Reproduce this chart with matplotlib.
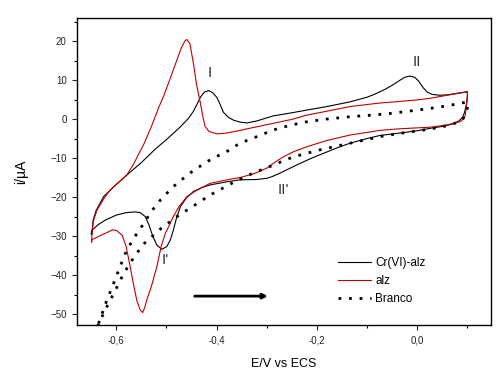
import numpy as np
import matplotlib
matplotlib.use('Agg')
import matplotlib.pyplot as plt
from matplotlib.ticker import MultipleLocator, FuncFormatter

plt.rcParams['font.family'] = ['Liberation Sans', 'DejaVu Sans']

# Cr(VI)-alz : forward (anodic) branch, right end, return branch
E_cr = [-0.648, -0.646, -0.640, -0.625, -0.600, -0.579, -0.550, -0.522, -0.500, -0.472,
        -0.455, -0.446, -0.438, -0.432, -0.424, -0.416, -0.408, -0.399, -0.392, -0.386,
        -0.376, -0.366, -0.353, -0.339, -0.320, -0.287, -0.250, -0.220, -0.180, -0.134,
        -0.100, -0.088, -0.074, -0.060, -0.048, -0.035, -0.025, -0.015, -0.005, 0.003,
        0.012, 0.020, 0.030, 0.045, 0.060, 0.080, 0.100,
        0.100, 0.099, 0.097, 0.094, 0.090, 0.083, 0.070, 0.050, 0.025,
        0.000, -0.035, -0.074, -0.100, -0.134, -0.160, -0.187, -0.210, -0.234, -0.255,
        -0.274, -0.290, -0.300, -0.320, -0.354, -0.380, -0.413, -0.430, -0.446, -0.460,
        -0.472, -0.480, -0.486, -0.492, -0.499, -0.509, -0.519, -0.525, -0.529, -0.535,
        -0.542, -0.552, -0.562, -0.580, -0.599, -0.620, -0.635, -0.648, -0.650]
i_cr = [-29.5, -26.0, -23.5, -19.9, -16.8, -14.4, -11.2, -7.7, -5.3, -2.0,
        0.3, 2.0, 4.0, 5.6, 6.9, 7.3, 6.8, 5.5, 3.5, 1.7,
        0.4, -0.3, -0.8, -1.0, -0.5, 0.8, 1.6, 2.3, 3.2, 4.4,
        5.6, 6.2, 7.0, 7.9, 8.8, 9.9, 10.7, 11.0, 10.7, 9.7,
        8.0, 6.9, 6.3, 6.1, 6.2, 6.6, 7.0,
        6.0, 4.5, 3.2, 1.6, 0.4, -0.5, -1.3, -1.9, -2.4,
        -3.0, -3.6, -4.2, -5.0, -6.2, -7.4, -8.8, -10.0, -11.4, -12.7,
        -13.9, -14.8, -15.2, -15.5, -15.6, -16.1, -16.9, -17.6, -18.6, -20.2,
        -22.5, -25.5, -28.5, -31.0, -32.7, -33.4, -32.3, -30.6, -29.3, -27.0,
        -25.0, -24.0, -23.8, -24.0, -24.6, -25.8, -27.0, -28.5, -29.5]

# alz
E_alz = [-0.649, -0.648, -0.645, -0.638, -0.625, -0.612, -0.595, -0.579, -0.565, -0.552,
         -0.545, -0.530, -0.515, -0.505, -0.492, -0.479, -0.470, -0.463, -0.459, -0.453,
         -0.446, -0.440, -0.432, -0.427, -0.423, -0.415, -0.399, -0.380, -0.360, -0.339,
         -0.320, -0.287, -0.250, -0.220, -0.180, -0.134, -0.075, -0.035, 0.000, 0.025,
         0.060, 0.100,
         0.100, 0.098, 0.095, 0.090, 0.085, 0.060, 0.025,
         -0.035, -0.074, -0.134, -0.180, -0.220, -0.245, -0.267, -0.285, -0.300, -0.325,
         -0.353, -0.380, -0.413, -0.440, -0.459, -0.475, -0.486, -0.495, -0.502, -0.510,
         -0.519, -0.530, -0.539, -0.543, -0.547, -0.552, -0.559, -0.566, -0.572, -0.580,
         -0.588, -0.599, -0.607, -0.615, -0.630, -0.648, -0.649]
i_alz = [-31.5, -28.5, -26.0, -23.3, -20.5, -18.2, -16.2, -14.4, -11.5, -8.2,
         -6.5, -2.0, 3.0, 6.0, 10.5, 15.1, 18.3, 20.0, 20.4, 19.3,
         14.3, 9.0, 4.0, 0.5, -1.8, -3.2, -3.8, -3.6, -3.1, -2.5,
         -2.0, -1.1, -0.1, 1.0, 2.0, 3.2, 4.1, 4.5, 4.9, 5.3,
         6.1, 7.0,
         6.0, 3.0, 0.6, -0.2, -0.7, -1.5, -2.1,
         -2.5, -2.9, -4.1, -5.5, -7.1, -8.3, -9.7, -11.2, -12.6, -14.0,
         -15.0, -15.6, -16.5, -18.3, -19.9, -22.5, -25.0, -27.5, -29.3, -32.5,
         -37.9, -43.0, -46.4, -48.3, -49.6, -49.0, -46.4, -42.0, -37.9, -32.7,
         -29.8, -28.6, -28.4, -28.9, -29.8, -30.9, -31.5]

# Branco
E_br = [-0.650, -0.635, -0.620, -0.605, -0.592, -0.579, -0.562, -0.545, -0.530, -0.512,
        -0.495, -0.479, -0.450, -0.420, -0.395, -0.373, -0.354, -0.327, -0.287, -0.250,
        -0.220, -0.180, -0.134, -0.090, -0.048, 0.000, 0.025, 0.060, 0.085, 0.100,
        0.100, 0.098, 0.092, 0.085, 0.060, 0.025,
        -0.020, -0.074, -0.134, -0.194, -0.247, -0.270, -0.294, -0.320, -0.340, -0.370,
        -0.413, -0.445, -0.479, -0.510, -0.545, -0.565, -0.585, -0.600, -0.618, -0.635,
        -0.650]
i_br = [-57.5, -52.4, -47.0, -42.1, -37.8, -33.6, -30.0, -26.8, -23.7, -20.8,
        -18.5, -16.5, -13.6, -11.0, -9.3, -7.9, -6.2, -4.9, -2.8, -1.5,
        -0.7, 0.0, 0.6, 1.0, 1.5, 2.3, 2.7, 3.4, 4.0, 4.4,
        3.0, 1.9, 0.2, -0.7, -1.7, -2.6,
        -3.4, -4.5, -6.2, -7.9, -9.7, -10.9, -12.2, -13.5, -14.6, -16.5,
        -19.5, -22.2, -25.0, -28.0, -32.0, -35.5, -39.6, -43.5, -48.0, -52.5,
        -57.5]

fig = plt.figure(figsize=(5.0, 3.79), dpi=100)
ax = fig.add_axes([0.154, 0.1425, 0.828, 0.81])

ax.plot(E_cr, i_cr, color='black', lw=0.8, label='Cr(VI)-alz')
ax.plot(E_alz, i_alz, color='#c00000', lw=0.8, label='alz')
ax.plot(E_br, i_br, color='black', lw=2.0, linestyle=(0, (1, 2.8)), label='Branco')

ax.set_xlim(-0.678, 0.147)
ax.set_ylim(-52.8, 25.9)

ax.xaxis.set_major_locator(MultipleLocator(0.2))
ax.xaxis.set_minor_locator(MultipleLocator(0.1))
ax.yaxis.set_major_locator(MultipleLocator(10))
ax.yaxis.set_minor_locator(MultipleLocator(5))
ax.xaxis.set_major_formatter(FuncFormatter(lambda v, p: ('%.1f' % v).replace('.', ',').replace('-0,0', '0,0')))
ax.tick_params(which='major', direction='out', length=3.5, width=0.8, labelsize=7, colors='#222222', pad=4)
ax.tick_params(which='minor', direction='out', length=2.5, width=0.8)
for s in ax.spines.values():
    s.set_linewidth(1.0)

ax.set_xlabel('E/V vs ECS', fontsize=9, labelpad=9)
ax.set_ylabel('i/\u00b5A', fontsize=10, labelpad=16)

# peak labels
ax.text(-0.413, 11.8, 'I', fontsize=11, color='#333333', ha='center', va='center')
ax.text(0.0, 14.6, 'II', fontsize=11, color='#333333', ha='center', va='center')
ax.text(-0.502, -36.2, "I'", fontsize=11, color='#333333', ha='center', va='center')
ax.text(-0.267, -18.2, "II'", fontsize=11, color='#333333', ha='center', va='center')

# scan direction arrow
ax.annotate('', xy=(-0.292, -45.4), xytext=(-0.449, -45.4),
            arrowprops=dict(arrowstyle='-|>', lw=2.0, color='black', mutation_scale=7))

ax.legend(loc='upper left', bbox_to_anchor=(0.63, 0.222), frameon=False, fontsize=8.5,
          handlelength=2.8, handletextpad=0.35, labelspacing=0.5,
          borderpad=0, borderaxespad=0)

plt.savefig('out.png', dpi=100)
